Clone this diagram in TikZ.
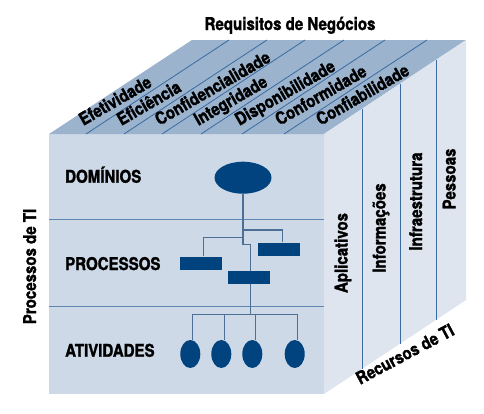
\documentclass[tikz,border=0pt]{standalone}
\usepackage{fontspec}
\newfontfamily\lblfont{TeX Gyre Heros}[UprightFont={* Bold}, BoldFont={* Bold}, FakeStretch=0.86, FakeBold=1.6]
\usetikzlibrary{shapes.geometric}
\definecolor{frontC}{HTML}{CDD9E7}
\definecolor{topC}{HTML}{9BB3CD}
\definecolor{rightC}{HTML}{DEE5EE}
\definecolor{divC}{HTML}{3A6BA3}
\definecolor{hlineC}{HTML}{5F86B0}
\definecolor{navyC}{HTML}{00437F}
\definecolor{treeC}{HTML}{4D6F95}
\tikzset{
  lbl/.style={inner sep=0pt, text=black},
  toplbl/.style={lbl, anchor=base west, rotate=30},
  divline/.style={draw=divC, line width=0.8pt},
  hline/.style={draw=hlineC, line width=0.9pt},
  treeline/.style={draw=treeC, line width=1.3pt},
  bigell/.style={ellipse, fill=navyC, inner sep=0pt, minimum width=57pt, minimum height=32pt},
  smallell/.style={ellipse, fill=navyC, inner sep=0pt, minimum width=20pt, minimum height=28pt},
  procbox/.style={rectangle, fill=navyC, inner sep=0pt, minimum width=42pt, minimum height=13.5pt}
}
\begin{document}
\begin{tikzpicture}[x=1pt,y=-1pt,font=\lblfont\fontsize{17.5pt}{20pt}\selectfont]
\useasboundingbox (0,0) rectangle (484,413);
% corners
\coordinate (FTL) at (49,134);
\coordinate (FTR) at (324,134);
\coordinate (FBL) at (49,394);
\coordinate (FBR) at (324,394);
\coordinate (BTL) at (192,40);
\coordinate (BTR) at (466,40);
\coordinate (BBR) at (466,300);
% faces
\fill[frontC] (FTL) rectangle (FBR);
\fill[topC] (FTL) -- (BTL) -- (BTR) -- (FTR) -- cycle;
\fill[rightC] (FTR) -- (BTR) -- (BBR) -- (FBR) -- cycle;
% front lines
\draw[hline] (49,219.5) -- (324,219.5);
\draw[hline] (49,306.5) -- (324,306.5);
% top dividers
\foreach \x in {86,124,162,201,242,284}{
  \draw[divline] (\x,134) -- ({\x+143},40);
}
% right dividers
\draw[divline] (362,108.8) -- (362,368.8);
\draw[divline] (400,83.7) -- (400,343.7);
\draw[divline] (436,59.9) -- (436,319.9);
% titles
\node[lbl, anchor=base] (req) at (290,30) {Requisitos de Negócios};
\node[lbl, anchor=base, rotate=90] (proc) at (36,266.5) {Processos de TI};
\node[lbl, anchor=base west, rotate=28] (rec) at (360,385) {Recursos de TI};
% top labels
\node[toplbl] (t1) at (83.3,126) {Efetividade};
\node[toplbl] (t2) at (121.3,126) {Eficiência};
\node[toplbl] (t3) at (159.3,126) {Confidencialidade};
\node[toplbl] (t4) at (198.3,126) {Integridade};
\node[toplbl] (t5) at (239.3,126) {Disponibilidade};
\node[toplbl] (t6) at (279.5,126) {Conformidade};
\node[toplbl] (t7) at (320.5,126) {Confiabilidade};
% right labels
\node[lbl, anchor=base, rotate=90] (r1) at (347.5,253) {Aplicativos};
\node[lbl, anchor=base, rotate=90] (r2) at (385.5,228) {Informações};
\node[lbl, anchor=base, rotate=90] (r3) at (422,201.5) {Infraestrutura};
\node[lbl, anchor=base, rotate=90] (r4) at (455.5,179) {Pessoas};
% front labels
\node[lbl, anchor=base west] (l1) at (65,182.7) {DOMÍNIOS};
\node[lbl, anchor=base west] (l2) at (65,270) {PROCESSOS};
\node[lbl, anchor=base west] (l3) at (65,356.7) {ATIVIDADES};
% tree
\node[bigell] (dom) at (243,177.7) {};
\node[procbox] (rr) at (279.3,249.3) {};
\node[procbox] (lr) at (200.5,263.3) {};
\node[procbox] (mr) at (248.5,277.5) {};
\node[smallell] (e1) at (190.3,354) {};
\node[smallell] (e2) at (221.3,354) {};
\node[smallell] (e3) at (252.3,354) {};
\node[smallell] (e4) at (294.7,354) {};
\coordinate (jr) at (282.7,230);
\coordinate (jl) at (203.3,237.3);
\coordinate (jm) at (250.7,244.3);
\coordinate (bus) at (250.7,314.3);
\draw[treeline] (dom.south) -- (243,244.3) -- (jm) -- (jm |- mr.north);
\draw[treeline] (243,230) -- (jr) -- (jr |- rr.north);
\draw[treeline] (243,237.3) -- (jl) -- (jl |- lr.north);
\draw[treeline] (jm |- mr.south) -- (bus);
\draw[treeline] (192.7,314.3) -- (297.7,314.3);
\coordinate (d1) at (192.7,314.3);
\coordinate (d2) at (224.3,314.3);
\coordinate (d3) at (255.7,314.3);
\coordinate (d4) at (297.7,314.3);
\draw[treeline] (d1) -- (d1 |- e1.north);
\draw[treeline] (d2) -- (d2 |- e2.north);
\draw[treeline] (d3) -- (d3 |- e3.north);
\draw[treeline] (d4) -- (d4 |- e4.north);
\end{tikzpicture}
\end{document}
